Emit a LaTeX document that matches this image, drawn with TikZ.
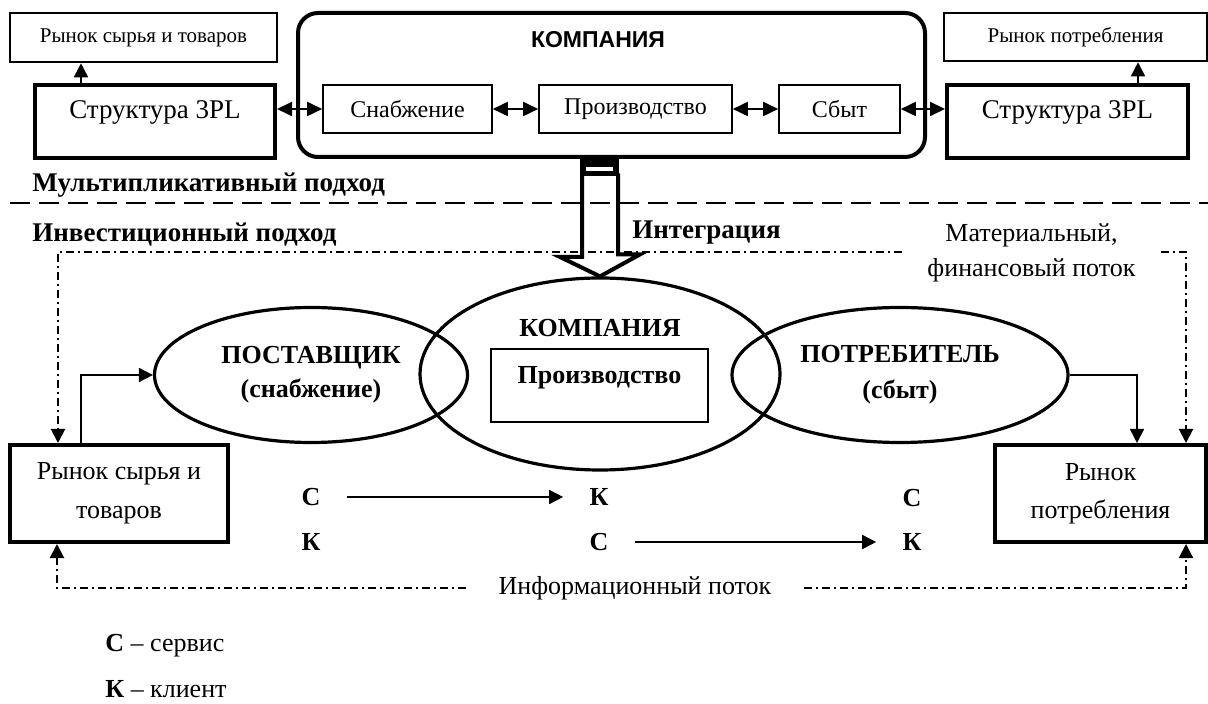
\documentclass[tikz,border=0pt]{standalone}
\usepackage{fontspec}
\setmainfont{Liberation Serif}
\newfontfamily\headsans{Liberation Sans}
\usetikzlibrary{arrows.meta,positioning,calc,shapes.geometric}

\begin{document}
\begin{tikzpicture}[
    x=0.5pt,y=-0.5pt,
    font=\fontsize{13}{16.5}\selectfont,
    box/.style={draw,line width=#1,inner sep=0pt,align=center},
    box/.default=2pt,
    ell/.style={draw,ellipse,line width=1.6pt,inner sep=0pt,align=center,font=\fontsize{13}{17}\selectfont\bfseries},
    txt/.style={inner sep=0pt,align=center},
    lbl/.style={inner sep=0pt,font=\fontsize{13}{16}\selectfont\bfseries},
    arr/.style={-{Triangle[length=7pt,width=7pt]},line width=0.8pt},
    dbl/.style={{Triangle[length=7.5pt,width=7pt]}-{Triangle[length=7.5pt,width=7pt]},line width=0.9pt},
    flow/.style={-{Triangle[length=7pt,width=7pt]},line width=1pt,dash pattern=on 4pt off 2pt on 1pt off 2pt},
    sep/.style={line width=1.3pt,dash pattern=on 10pt off 4.5pt}
  ]
    \useasboundingbox (0,0) rectangle (1208,704);

    % multiplicative approach
    \node[box=1.3pt,minimum width=133.5pt,minimum height=24.5pt,font=\fontsize{10.5}{12}\selectfont] (mkt1) at (143.5,37.5) {Рынок сырья и товаров};
    \node[box,minimum width=120pt,minimum height=36.5pt] (s3pl1) at (155,121.5) {};
    \node[txt,font=\fontsize{13.5}{16}\selectfont] (t3pl1) at (155,112) {Структура 3PL};
    \node[box,rounded corners=10pt,minimum width=313.5pt,minimum height=72pt] (comp) at (611.5,85) {};
    \node[txt,font={\fontsize{11.5}{14}\headsans\bfseries}] (tcomp) at (598,40) {КОМПАНИЯ};
    \node[box=0.8pt,minimum width=84.5pt,minimum height=24pt,font=\fontsize{12}{14}\selectfont] (snab) at (407.5,109) {Снабжение};
    \node[box=0.8pt,minimum width=96.5pt,minimum height=24pt,font=\fontsize{12}{14}\selectfont] (proiz) at (635.5,109) {Производство};
    \node[box=0.8pt,minimum width=60.5pt,minimum height=24pt,font=\fontsize{12}{14}\selectfont] (sbyt) at (839.5,109) {Сбыт};
    \node[box,minimum width=120.5pt,minimum height=36.5pt] (s3pl2) at (1067.5,121.5) {};
    \node[txt,font=\fontsize{13.5}{16}\selectfont] (t3pl2) at (1067.5,112) {Структура 3PL};
    \node[box=1.3pt,minimum width=131.5pt,minimum height=24pt,font=\fontsize{10.5}{12}\selectfont] (mkt2) at (1075.5,37) {Рынок потребления};

    \coordinate (u1) at ($(s3pl1.north west)+(48,0)$);
    \coordinate (u2) at ($(s3pl2.north west)+(193,0)$);
    \draw[arr] (u1) -- (u1 |- mkt1.south);
    \draw[arr] (u2) -- (u2 |- mkt2.south);
    \draw[dbl] (s3pl1.east |- snab.west) -- (snab.west);
    \draw[dbl] (snab.east) -- (proiz.west);
    \draw[dbl] (proiz.east) -- (sbyt.west);
    \draw[dbl] (sbyt.east) -- (sbyt.east -| s3pl2.west);

    \node[lbl,anchor=west,font=\fontsize{13.5}{16}\selectfont\bfseries] (multi) at (32,185) {Мультипликативный подход};
    \draw[sep] (10,203) -- (1208,203);
    \node[lbl,anchor=west,font=\fontsize{13.5}{16}\selectfont\bfseries] (invest) at (32,235) {Инвестиционный подход};

    % investment approach
    \node[ell,minimum width=156.5pt,minimum height=67.5pt] (elS) at (311,375) {ПОСТАВЩИК\\(снабжение)};
    \node[ell,minimum width=180pt,minimum height=96pt] (elK) at (600,374) {};
    \node[ell,minimum width=168pt,minimum height=67.5pt,font=\fontsize{13}{18}\selectfont\bfseries] (elP) at (900,375) {ПОТРЕБИТЕЛЬ\\(сбыт)};
    \node[lbl] (tcomp2) at (600,328) {КОМПАНИЯ};
    \node[box=1pt,minimum width=108.5pt,minimum height=36.5pt] (prod2) at (599.5,385.5) {};
    \node[lbl] (tprod2) at (599.5,378) {Производство};

    % integration arrow
    \coordinate (itop) at (elK.north |- comp.south);
    \fill ($(itop)+(-20,-2)$) rectangle ++(39,19);
    \fill[white] ($(itop)+(-14,8)$) rectangle ++(27,4);
    \draw[line width=2pt] ($(itop)+(-18,17)$) -- ++(0,81) -- ++(-22,0) -- (elK.north) -- ++(40,-22) -- ++(-22,0) -- ++(0,-81);
    \node[lbl,anchor=west,font=\fontsize{13.5}{16}\selectfont\bfseries] (integ) at (632,233) {Интеграция};

    \node[box,minimum width=109pt,minimum height=48.5pt,font=\fontsize{13}{19.5}\selectfont] (mkt3) at (119,493.5) {Рынок сырья и\\товаров};
    \node[box,minimum width=105.5pt,minimum height=48.5pt,font=\fontsize{13}{19}\selectfont] (mkt4) at (1100.5,493.5) {Рынок\\потребления};

    \node[txt,inner xsep=12.5pt,font=\fontsize{13}{17.5}\selectfont] (tmat) at (1031.5,252.5) {Материальный,\\финансовый поток};
    \node[txt,inner xsep=16pt] (tinf) at (635,588) {Информационный поток};

    \draw[arr] ($(mkt3.north west)+(73,0)$) |- (elS.west);
    \draw[arr] (elP.east) -| ($(mkt4.north west)+(144,0)$);
    \draw[flow] (tmat.west) -| ($(mkt3.north west)+(50,0)$);
    \draw[flow] (tmat.east) -| ($(mkt4.north west)+(193,0)$);
    \draw[flow] (tinf.west) -| ($(mkt3.south west)+(49,0)$);
    \draw[flow] (tinf.east) -| ($(mkt4.south west)+(193,0)$);

    % service / client
    \node[lbl] (c1) at (311,497) {С};
    \node[lbl] (k1) at (311,542) {К};
    \node[lbl] (k2) at (599,497) {К};
    \node[lbl] (c2) at (599,542) {С};
    \node[lbl] (c3) at (912,498) {С};
    \node[lbl] (k3) at (912,542) {К};
    \draw[arr,shorten <=13pt,shorten >=13pt] (c1) -- (k2);
    \draw[arr,shorten <=13pt,shorten >=13pt] (c2) -- (k3);

    \node[txt,anchor=west] (legc) at (105,646) {\textbf{С} – сервис};
    \node[txt,anchor=west] (legk) at (105,689) {\textbf{К} – клиент};
  \end{tikzpicture}
\end{document}
